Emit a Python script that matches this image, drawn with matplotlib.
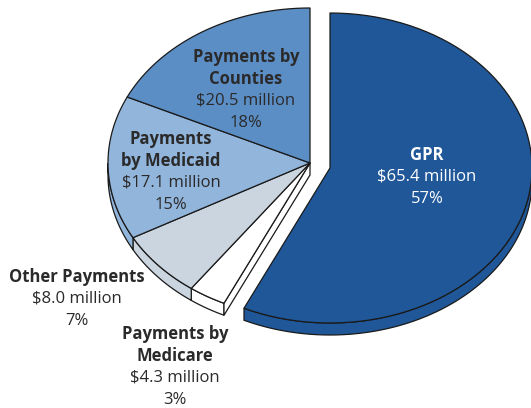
import numpy as np
import matplotlib.pyplot as plt
from matplotlib.patches import Polygon

# slices, clockwise from 12 o'clock
names = ["GPR", "Payments by\nMedicare", "Other Payments", "Payments\nby Medicaid", "Payments by\nCounties"]
amounts = [65.4, 4.3, 8.0, 17.1, 20.5]
pcts = [57, 3, 7, 15, 18]
colors = ["#1f5799", "#ffffff", "#cbd5df", "#92b5dc", "#5c8ec6"]

# label block centres (pixel coords)
label_xy = [(427, 177), (175, 367), (77, 299), (171, 172), (246, 90)]
label_col = ["white", "#2a2a2a", "#2a2a2a", "#2a2a2a", "#2a2a2a"]

cx, cy = 310, 163
rx, ry = 202, 155
depth = 12
explode = (20, 5)
edge = "#1a1a1a"
lw = 0.9

fig = plt.figure(figsize=(5.31, 4.08), dpi=100)
ax = fig.add_axes([0, 0, 1, 1])
ax.set_xlim(0, 531)
ax.set_ylim(408, 0)
ax.axis("off")


def pt(x0, y0, t):
    return x0 + rx * np.cos(t), y0 - ry * np.sin(t)


def arc(x0, y0, t1, t2, n=80, dy=0):
    t = np.linspace(t1, t2, n)
    return np.column_stack([x0 + rx * np.cos(t), y0 - ry * np.sin(t) + dy])


# angle bounds, degrees, counterclockwise
bounds = []
start = 90.0
for p in pcts:
    end = start - p * 3.6
    bounds.append((end, start))
    start = end


def side(x0, y0, t1, t2, col, z):
    # front part of rim, where sin < 0 -> angles in (-180, 0)
    a = max(t1, -180.0)
    b = min(t2, 0.0)
    if a >= b:
        return
    top = arc(x0, y0, np.radians(a), np.radians(b))
    bot = arc(x0, y0, np.radians(b), np.radians(a), dy=depth)
    ax.add_patch(Polygon(np.vstack([top, bot]), closed=True, fc=col, ec=edge, lw=lw, zorder=z))


def top_face(x0, y0, t1, t2, col, z):
    pts = np.vstack([[x0, y0], arc(x0, y0, np.radians(t1), np.radians(t2)), [x0, y0]])
    ax.add_patch(Polygon(pts, closed=True, fc=col, ec=edge, lw=lw, zorder=z, joinstyle="round"))


def norm(t1, t2):
    # map bounds into (-270, 90] range so front part tests work
    while t2 <= -180:
        t1 += 360
        t2 += 360
    return t1, t2


# main pie (everything except GPR)
for i in range(1, len(pcts)):
    t1, t2 = bounds[i]
    side(cx, cy, t1, t2, colors[i], 1)
    side(cx, cy, t1 + 360, t2 + 360, colors[i], 1)

# radial face of Medicare exposed by the exploded slice
tg = np.radians(bounds[0][0])
px, py = pt(cx, cy, tg)
face = [[cx, cy], [px, py], [px, py + depth], [cx, cy + depth]]
ax.add_patch(Polygon(face, closed=True, fc=colors[1], ec=edge, lw=lw, zorder=2))

for i in range(1, len(pcts)):
    t1, t2 = bounds[i]
    top_face(cx, cy, t1, t2, colors[i], 3)

# exploded GPR slice
gx, gy = cx + explode[0], cy + explode[1]
side(gx, gy, bounds[0][0], bounds[0][1], colors[0], 4)
top_face(gx, gy, bounds[0][0], bounds[0][1], colors[0], 5)

# labels
for i in range(len(names)):
    x, y = label_xy[i]
    first = names[i]
    rest = f"${amounts[i]:.1f} million\n{pcts[i]}%"
    nl = first.count("\n") + 1
    lines = nl + 2
    step = 21.7
    y0 = y - (lines - 1) * step / 2
    for j, line in enumerate(first.split("\n")):
        ax.text(x, y0 + j * step, line, ha="center", va="center", fontsize=12,
                fontweight="bold", color=label_col[i], family="Open Sans", zorder=10)
    for j, line in enumerate(rest.split("\n")):
        ax.text(x, y0 + (nl + j) * step, line, ha="center", va="center", fontsize=12,
                color=label_col[i], family="Open Sans", zorder=10)

fig.savefig("out.png", dpi=100)
